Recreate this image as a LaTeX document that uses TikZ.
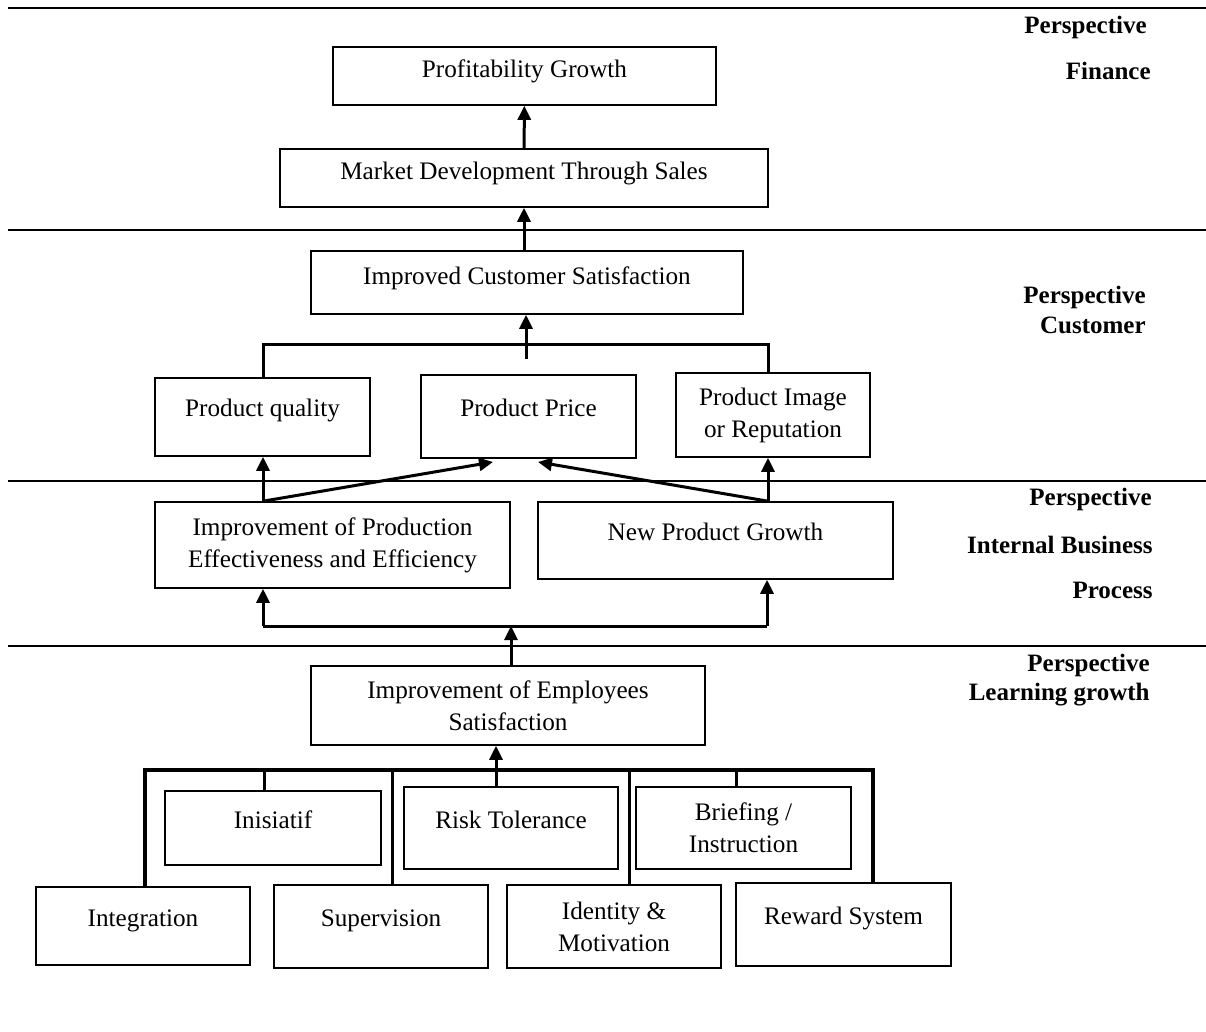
\documentclass[tikz,border=0pt]{standalone}
\usepackage{fontspec}
\setmainfont{Liberation Serif}
\newfontfamily\sidefont{Liberation Serif}
\usetikzlibrary{arrows.meta}

\begin{document}
\begin{tikzpicture}[
  x=0.5pt, y=-0.5pt,
  box/.style={draw, line width=0.8pt, font=\fontsize{12.6}{16}\selectfont, align=center, inner sep=0pt},
  lone/.style={text height=9pt, text depth=9pt},
  half/.style={text height=10pt, text depth=8pt},
  side/.style={font=\sidefont\fontsize{12.5}{15}\selectfont\bfseries, anchor=mid east, inner sep=0pt},
  rule/.style={line width=1pt},
  link/.style={line width=1.5pt},
  arr/.style={-{Triangle[length=7pt, width=6.5pt]}, line width=1.5pt}
]
\useasboundingbox (0,0) rectangle (1206,1032);

% perspective dividers
\draw[rule] (8,8) -- (1206,8);
\draw[rule] (8,230) -- (1206,230);
\draw[rule] (8,481) -- (1206,481);
\draw[rule] (8,646) -- (1206,646);

% perspective names
\node[side] (fin1) at (1147,29) {Perspective};
\node[side] (fin2) at (1151,75) {Finance};
\node[side] (cus1) at (1146,299) {Perspective};
\node[side] (cus2) at (1146,329) {Customer};
\node[side] (ibp1) at (1152,501) {Perspective};
\node[side] (ibp2) at (1153,549) {Internal Business};
\node[side] (ibp3) at (1153,594) {Process};
\node[side] (lg1) at (1150,667) {Perspective};
\node[side] (lg2) at (1150,696) {Learning growth};

% finance
\node[box, half, minimum width=191.5pt, minimum height=29pt] (profit) at (524.5,76) {Profitability Growth};
\node[box, half, minimum width=244pt, minimum height=29pt] (market) at (524,178) {Market Development Through Sales};

% customer
\node[box, half, minimum width=216pt, minimum height=31.5pt] (custsat) at (527,282.5) {Improved Customer Satisfaction};
\node[box, lone, minimum width=107.5pt, minimum height=39pt] (quality) at (262.5,417) {Product quality};
\node[box, lone, minimum width=107.5pt, minimum height=41.5pt] (price) at (528.5,416.5) {Product Price};
\node[box, minimum width=97pt, minimum height=42pt] (image) at (773,415) {Product Image\\or Reputation};

% internal business process
\node[box, minimum width=177.5pt, minimum height=43pt] (prodeff) at (332.5,545) {Improvement of Production\\Effectiveness and Efficiency};
\node[box, lone, minimum width=177.5pt, minimum height=38.5pt] (newprod) at (715.5,540.5) {New Product Growth};

% learning growth
\node[box, minimum width=197pt, minimum height=39.5pt] (empsat) at (508,705.5) {Improvement of Employees\\Satisfaction};
\node[box, lone, minimum width=108pt, minimum height=37pt] (inisiatif) at (273,828) {Inisiatif};
\node[box, lone, minimum width=107pt, minimum height=41pt] (risk) at (511,828) {Risk Tolerance};
\node[box, minimum width=107.5pt, minimum height=41pt] (briefing) at (743.5,828) {Briefing /\\Instruction};
\node[box, lone, minimum width=107pt, minimum height=39pt] (integration) at (143,926) {Integration};
\node[box, lone, minimum width=107pt, minimum height=41.5pt] (supervision) at (381,926.5) {Supervision};
\node[box, minimum width=107pt, minimum height=41.5pt] (identity) at (614,926.5) {Identity \&\\Motivation};
\node[box, lone, minimum width=107.5pt, minimum height=41.5pt] (reward) at (843.5,924.5) {Reward System};

% forks and stems
\coordinate (cbarL) at (263,345);
\coordinate (cbarR) at (768,345);
\coordinate (cstem) at (526,359);
\coordinate (ptipL) at (493,462);
\coordinate (ptipR) at (538,462);
\coordinate (ibarL) at (263,626);
\coordinate (ibarR) at (767,626);
\coordinate (istem) at (511,626);
\coordinate (lbarL) at (145,770);
\coordinate (lbarR) at (873,770);
\coordinate (d1) at (264,770);
\coordinate (d2) at (392,770);
\coordinate (d3) at (629,770);
\coordinate (d4) at (736,770);
\coordinate (rstem) at (496,770);

\draw[arr] (market) -- (profit);
\draw[arr] (market.south |- custsat.north) -- (market.south);

\draw[link] (quality.north -| cbarL) -- (cbarL) -- (cbarR) -- (image.north -| cbarR);
\draw[arr] (cstem) -- (cstem |- custsat.south);

\draw[arr] (prodeff.north -| cbarL) -- (quality.south -| cbarL);
\draw[arr] (prodeff.north -| cbarL) -- (ptipL);
\draw[arr] (newprod.north -| cbarR) -- (image.south -| cbarR);
\draw[arr] (newprod.north -| cbarR) -- (ptipR);

\draw[link] (ibarL) -- (ibarR);
\draw[arr] (ibarL) -- (ibarL |- prodeff.south);
\draw[arr] (ibarR) -- (ibarR |- newprod.south);
\draw[arr] (istem |- empsat.north) -- (istem);

\draw[link, line width=2pt] (integration.north -| lbarL) -- (lbarL) -- (lbarR) -- (reward.north -| lbarR);
\draw[link] (d1) -- (d1 |- inisiatif.north);
\draw[link] (d2) -- (d2 |- supervision.north);
\draw[link] (d3) -- (d3 |- identity.north);
\draw[link] (d4) -- (d4 |- briefing.north);
\draw[arr] (rstem |- risk.north) -- (rstem |- empsat.south);
\end{tikzpicture}
\end{document}
